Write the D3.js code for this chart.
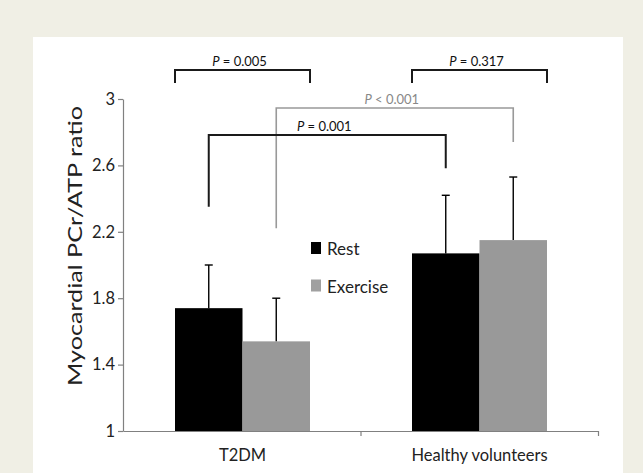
<!DOCTYPE html>
<html>
<head>
<meta charset="utf-8">
<script src="https://cdn.jsdelivr.net/npm/d3@7"></script>
<style>
  body { margin: 0; background: #f0efe5; }
  svg { display: block; }
  text { font-family: Lato, 'Open Sans', sans-serif; fill: #222; }
</style>
</head>
<body>
<script>
// Data
var groups = ['T2DM', 'Healthy volunteers'];
var series = ['Rest', 'Exercise'];
var means = [[1.74, 1.54], [2.07, 2.15]];
var sds = [[0.26, 0.26], [0.35, 0.38]];
var yTicks = [1, 1.4, 1.8, 2.2, 2.6, 3];

// Significance brackets: bar anchors (group, series, 0 = left edge / 0.5 = centre / 1 = right edge)
// and levels in PCr/ATP units
var brackets = [
  { op: '=', p: '0.005', a: [0, 0, 0], b: [0, 1, 1], top: 3.175, legA: 3.096, legB: 3.096, grey: false },
  { op: '=', p: '0.317', a: [1, 0, 0], b: [1, 1, 1], top: 3.175, legA: 3.096, legB: 3.096, grey: false },
  { op: '<', p: '0.001', a: [0, 1, 0.5], b: [1, 1, 0.5], top: 2.946, legA: 2.221, legB: 2.741, grey: true },
  { op: '=', p: '0.001', a: [0, 0, 0.5], b: [1, 0, 0.5], top: 2.783, legA: 2.351, legB: 2.583, grey: false }
];

var width = 643,
  height = 473;

var svg = d3.select('body')
  .append('svg')
  .attr('width', width)
  .attr('height', height);

// white panel on the beige page
svg.append('rect')
  .attr('x', 33)
  .attr('y', 37)
  .attr('width', 590)
  .attr('height', height - 37)
  .attr('fill', '#fff');

var x0 = d3.scaleBand()
  .domain(groups)
  .range([124, 598]);

var x1 = d3.scaleBand()
  .domain(series)
  .range([0, 135]);

var off = (x0.bandwidth() - 135) / 2;

var y = d3.scaleLinear()
  .domain([1, 3])
  .range([431, 99]);

var colors = d3.scaleOrdinal()
  .domain(series)
  .range(['#000', '#999']);

function barX(gi, si, frac) {
  return x0(groups[gi]) + off + x1(series[si]) + frac * x1.bandwidth();
}

// bars
var rows = [];
groups.forEach(function(g, gi) {
  series.forEach(function(s, si) {
    rows.push({ gi: gi, si: si, v: means[gi][si], sd: sds[gi][si] });
  });
});

var bars = svg.append('g');

bars.selectAll('rect')
  .data(rows)
  .enter()
  .append('rect')
  .attr('x', function(d) { return barX(d.gi, d.si, 0); })
  .attr('y', function(d) { return y(d.v); })
  .attr('width', x1.bandwidth())
  .attr('height', function(d) { return y(1) - y(d.v); })
  .attr('fill', function(d) { return colors(series[d.si]); });

// error bars (upper only)
var err = svg.append('g')
  .attr('stroke', '#000')
  .attr('stroke-width', 1.4);

err.selectAll('line.stem')
  .data(rows)
  .enter()
  .append('line')
  .attr('class', 'stem')
  .attr('x1', function(d) { return barX(d.gi, d.si, 0.5); })
  .attr('x2', function(d) { return barX(d.gi, d.si, 0.5); })
  .attr('y1', function(d) { return y(d.v); })
  .attr('y2', function(d) { return y(d.v + d.sd); });

err.selectAll('line.cap')
  .data(rows)
  .enter()
  .append('line')
  .attr('class', 'cap')
  .attr('x1', function(d) { return barX(d.gi, d.si, 0.5) - 4; })
  .attr('x2', function(d) { return barX(d.gi, d.si, 0.5) + 4; })
  .attr('y1', function(d) { return y(d.v + d.sd); })
  .attr('y2', function(d) { return y(d.v + d.sd); });

// y axis
var yAxis = svg.append('g')
  .attr('transform', 'translate(123,0)')
  .call(d3.axisLeft(y)
    .tickValues(yTicks)
    .tickFormat(function(d) { return d; })
    .tickSize(5)
    .tickSizeOuter(0)
    .tickPadding(3));

yAxis.selectAll('path, line').attr('stroke', '#808080').attr('stroke-width', 1.2);
yAxis.selectAll('text')
  .style('font-size', '16.5px')
  .style('font-family', 'Lato, sans-serif')
  .attr('fill', '#333');

// x axis: line with ticks at the band boundaries, labels at band centres
var xEdge = d3.scaleLinear()
  .domain([0, groups.length])
  .range([123, 598]);

var xLine = svg.append('g')
  .attr('transform', 'translate(0,' + y(1) + ')')
  .call(d3.axisBottom(xEdge)
    .tickValues([1, 2])
    .tickFormat('')
    .tickSize(5)
    .tickSizeOuter(0));

xLine.selectAll('path, line').attr('stroke', '#808080').attr('stroke-width', 1.2);

var xLab = svg.append('g')
  .attr('transform', 'translate(0,' + y(1) + ')')
  .call(d3.axisBottom(x0)
    .tickSize(0)
    .tickPadding(18));

xLab.select('.domain').remove();
xLab.selectAll('text')
  .style('font-size', '16.5px')
  .style('font-family', 'Lato, sans-serif')
  .attr('fill', '#222');

// y axis title
svg.append('text')
  .attr('transform', 'translate(82,246) rotate(-90)')
  .attr('text-anchor', 'middle')
  .attr('textLength', 280)
  .attr('lengthAdjust', 'spacingAndGlyphs')
  .style('font-size', '19px')
  .text('Myocardial PCr/ATP ratio');

// legend
var legend = svg.append('g')
  .selectAll('g')
  .data(series)
  .enter()
  .append('g')
  .attr('transform', function(d, i) { return 'translate(311,' + (242 + i * 37.5) + ')'; });

legend.append('rect')
  .attr('width', 10)
  .attr('height', 12)
  .attr('fill', function(d, i) { return i ? '#a0a0a0' : '#000'; });

legend.append('text')
  .attr('x', 16)
  .attr('y', 13)
  .style('font-size', '17px')
  .text(function(d) { return d; });

// significance brackets
var sig = svg.append('g');

var br = sig.selectAll('g')
  .data(brackets)
  .enter()
  .append('g');

br.append('path')
  .attr('fill', 'none')
  .attr('stroke', function(d) { return d.grey ? '#999' : '#1a1a1a'; })
  .attr('stroke-width', function(d) { return d.grey ? 1.6 : 2; })
  .attr('d', function(d) {
    var xa = barX(d.a[0], d.a[1], d.a[2]);
    var xb = barX(d.b[0], d.b[1], d.b[2]);
    return 'M' + xa + ',' + y(d.legA) + 'V' + y(d.top) + 'H' + xb + 'V' + y(d.legB);
  });

var lab = br.append('text')
  .attr('x', function(d) {
    return (barX(d.a[0], d.a[1], d.a[2]) + barX(d.b[0], d.b[1], d.b[2])) / 2 - 3;
  })
  .attr('y', function(d) { return y(d.top) - 4; })
  .attr('text-anchor', 'middle')
  .style('font-size', '13px')
  .style('fill', function(d) { return d.grey ? '#888' : '#111'; });

lab.append('tspan')
  .style('font-style', 'italic')
  .text('P');

lab.append('tspan')
  .text(function(d) { return ' ' + d.op + ' ' + d.p; });
</script>
</body>
</html>
